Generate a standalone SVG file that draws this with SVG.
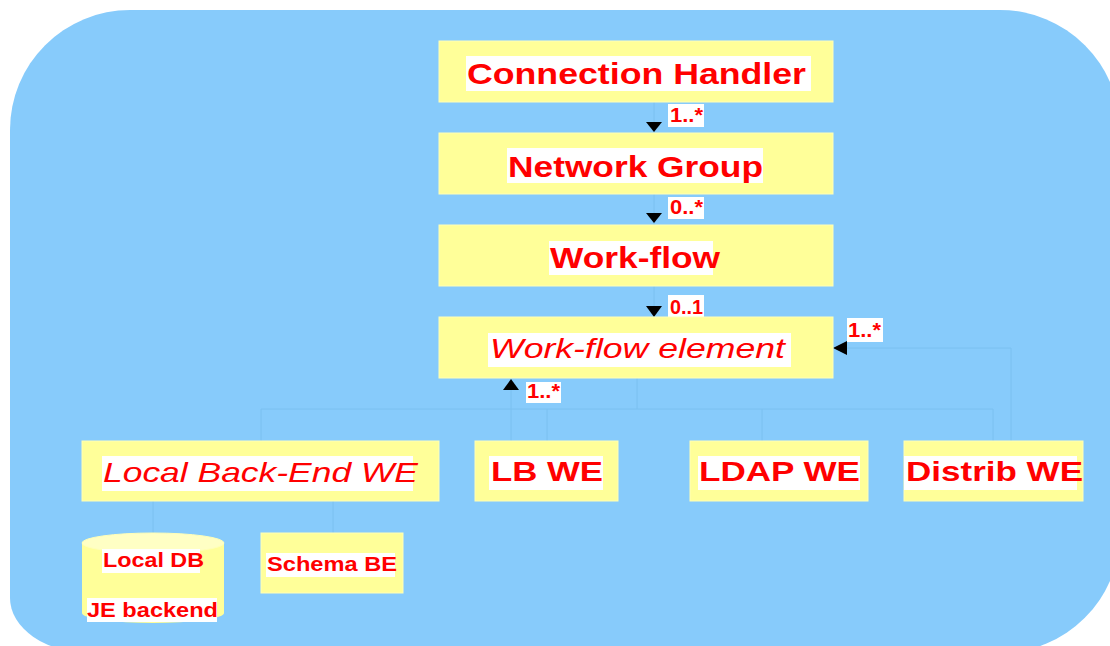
<svg xmlns="http://www.w3.org/2000/svg" width="1110" height="646" viewBox="0 0 1110 646">
  <defs>
    <style>
      .box { fill: #FFFF99; stroke: #FFFFB8; stroke-width: 1; }
      .hl { fill: #FFFFFF; }
      .t { font-family: "Liberation Sans", Arial, sans-serif; fill: #FF0000; }
      .b { font-weight: bold; }
      .i { font-style: italic; }
      .big { font-size: 30px; }
      .mid { font-size: 28px; }
      .sm { font-size: 19.5px; }
      .mult { font-size: 20px; font-weight: bold; }
      .ln { fill: none; stroke: #7BC0F0; stroke-width: 1; }
      .ah { fill: #000000; }
    </style>
  </defs>

  <!-- rounded backdrop -->
  <path d="M10,130 A120,120 0 0 1 130,10 L1000,10 A120,120 0 0 1 1120,130 L1120,533 A120,120 0 0 1 1000,653 L90,653 A80,55 0 0 1 10,598 Z" fill="#87CBFB"/>

  <!-- connectors -->
  <g id="connectors">
    <line class="ln" x1="654" y1="102" x2="654" y2="133"/>
    <line class="ln" x1="654" y1="194" x2="654" y2="225"/>
    <line class="ln" x1="654" y1="286" x2="654" y2="317"/>
    <polyline class="ln" points="637,378 637,409"/>
    <line class="ln" x1="261" y1="409" x2="993" y2="409"/>
    <line class="ln" x1="261" y1="409" x2="261" y2="441"/>
    <line class="ln" x1="547" y1="409" x2="547" y2="441"/>
    <line class="ln" x1="762" y1="409" x2="762" y2="441"/>
    <line class="ln" x1="993" y1="409" x2="993" y2="441"/>
    <line class="ln" x1="511" y1="390" x2="511" y2="441"/>
    <polyline class="ln" points="847,348 1011,348 1011,441"/>
    <line class="ln" x1="153" y1="501" x2="153" y2="533"/>
    <line class="ln" x1="333" y1="501" x2="333" y2="533"/>

    <!-- arrowheads -->
    <polygon class="ah" points="646,122 662,122 654,132"/>
    <polygon class="ah" points="646,213 662,213 654,223"/>
    <polygon class="ah" points="646,306 662,306 654,317"/>
    <polygon class="ah" points="503,390 519,390 511,379"/>
    <polygon class="ah" points="847,341 847,355 833,348"/>

    <!-- multiplicities -->
    <rect class="hl" x="668" y="104" width="36" height="23"/>
    <text class="t mult" x="670" y="122" textLength="33" lengthAdjust="spacingAndGlyphs">1..*</text>
    <rect class="hl" x="668" y="197" width="36" height="22"/>
    <text class="t mult" x="670" y="214" textLength="33" lengthAdjust="spacingAndGlyphs">0..*</text>
    <rect class="hl" x="668" y="295" width="36" height="22"/>
    <text class="t mult" x="670" y="314" textLength="33" lengthAdjust="spacingAndGlyphs">0..1</text>
    <rect class="hl" x="526" y="382" width="35" height="21"/>
    <text class="t mult" x="527" y="398" textLength="33" lengthAdjust="spacingAndGlyphs">1..*</text>
    <rect class="hl" x="847" y="318" width="36" height="24"/>
    <text class="t mult" x="848" y="337" textLength="33" lengthAdjust="spacingAndGlyphs">1..*</text>
  </g>

  <g id="connection-handler">
    <rect class="box" x="439" y="41" width="394" height="61"/>
    <rect class="hl" x="466" y="56" width="345" height="35"/>
    <text class="t b big" x="467" y="84" textLength="339" lengthAdjust="spacingAndGlyphs">Connection Handler</text>
  </g>

  <g id="network-group">
    <rect class="box" x="439" y="133" width="394" height="61"/>
    <rect class="hl" x="507" y="148" width="256" height="35"/>
    <text class="t b big" x="508" y="177" textLength="255" lengthAdjust="spacingAndGlyphs">Network Group</text>
  </g>

  <g id="work-flow">
    <rect class="box" x="439" y="225" width="394" height="61"/>
    <rect class="hl" x="549" y="241" width="164" height="34"/>
    <text class="t b big" x="550" y="268" textLength="170" lengthAdjust="spacingAndGlyphs">Work-flow</text>
  </g>

  <g id="work-flow-element">
    <rect class="box" x="439" y="317" width="394" height="61"/>
    <rect class="hl" x="488" y="333" width="303" height="34"/>
    <text class="t i mid" x="490" y="358" textLength="295" lengthAdjust="spacingAndGlyphs">Work-flow element</text>
  </g>

  <g id="local-back-end-we">
    <rect class="box" x="82" y="441" width="357" height="60"/>
    <rect class="hl" x="102" y="456" width="311" height="35"/>
    <text class="t i mid" x="103" y="482" textLength="315" lengthAdjust="spacingAndGlyphs">Local Back-End WE</text>
  </g>

  <g id="lb-we">
    <rect class="box" x="475" y="441" width="143" height="60"/>
    <rect class="hl" x="489" y="456" width="114" height="34"/>
    <text class="t b mid" x="491" y="481" textLength="112" lengthAdjust="spacingAndGlyphs">LB WE</text>
  </g>

  <g id="ldap-we">
    <rect class="box" x="690" y="441" width="178" height="60"/>
    <rect class="hl" x="698" y="456" width="162" height="34"/>
    <text class="t b mid" x="699" y="481" textLength="161" lengthAdjust="spacingAndGlyphs">LDAP WE</text>
  </g>

  <g id="distrib-we">
    <rect class="box" x="904" y="441" width="179" height="60"/>
    <rect class="hl" x="904" y="456" width="173" height="34"/>
    <text class="t b mid" x="906" y="481" textLength="177" lengthAdjust="spacingAndGlyphs">Distrib WE</text>
  </g>

  <g id="local-db">
    <path d="M82,543 L82,613 A71,10 0 0 0 224,613 L224,543 Z" fill="#FFFF99"/>
    <ellipse cx="153" cy="543" rx="71" ry="10" fill="#FFFFC4" stroke="#FFFFB8" stroke-width="1"/>
    <rect class="hl" x="102" y="549" width="98" height="24"/>
    <text class="t b sm" x="103" y="567" textLength="101" lengthAdjust="spacingAndGlyphs">Local DB</text>
    <rect class="hl" x="87" y="598" width="130" height="24"/>
    <text class="t b sm" x="87" y="617" textLength="131" lengthAdjust="spacingAndGlyphs">JE backend</text>
  </g>

  <g id="schema-be">
    <rect class="box" x="261" y="533" width="142" height="60"/>
    <rect class="hl" x="266" y="553" width="129" height="24"/>
    <text class="t b sm" x="267" y="571" textLength="130" lengthAdjust="spacingAndGlyphs">Schema BE</text>
  </g>
</svg>
